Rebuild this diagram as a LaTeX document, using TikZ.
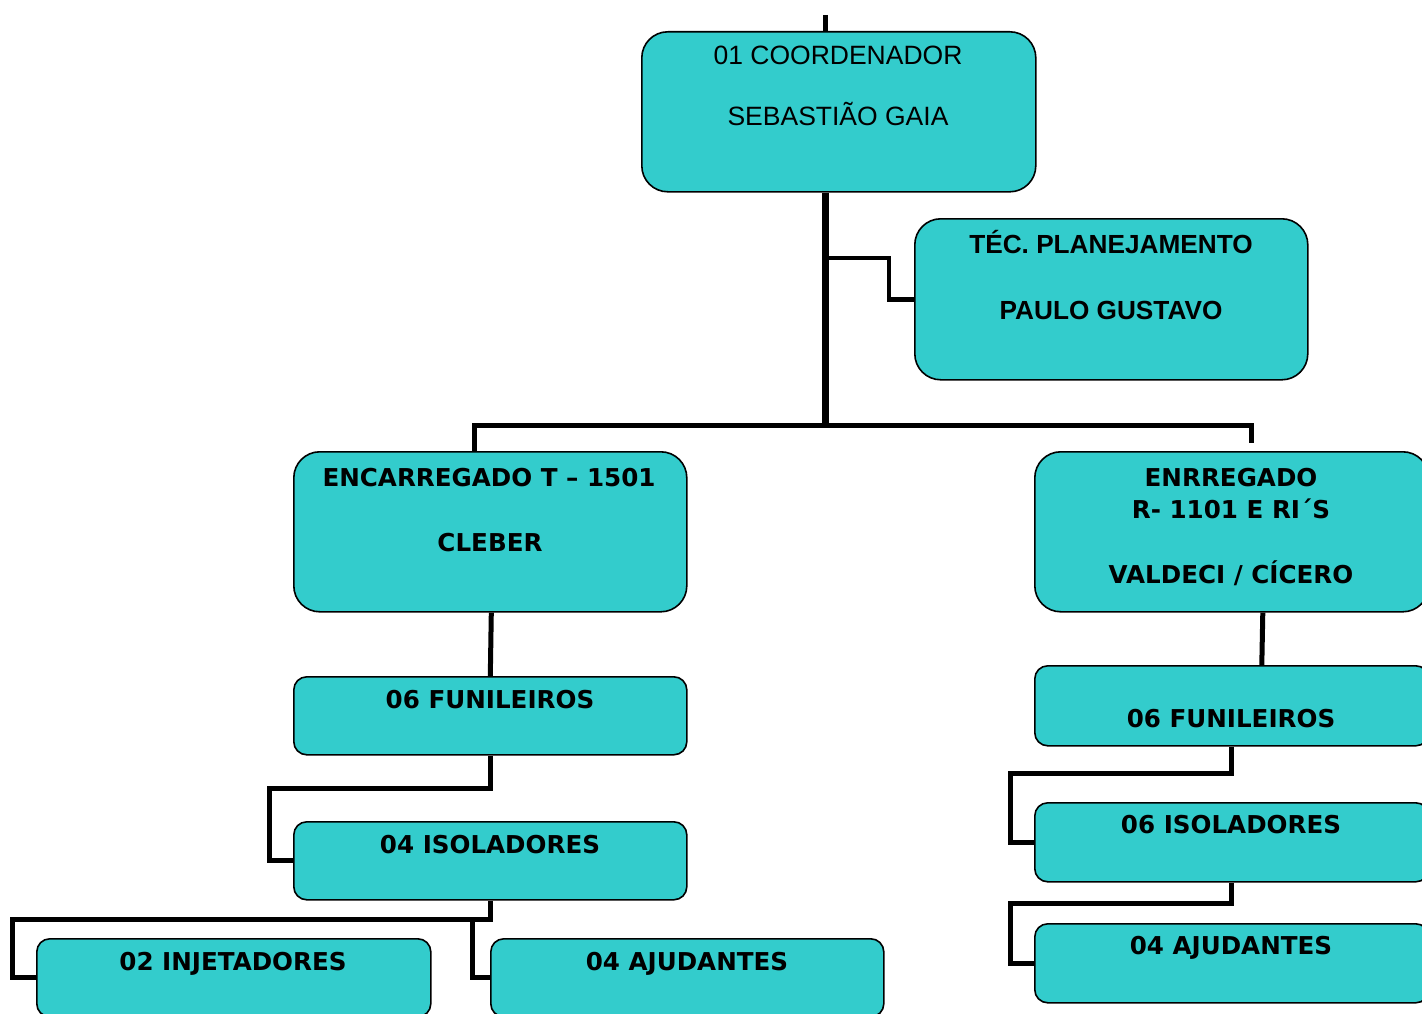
\documentclass[tikz,border=0pt]{standalone}
\usepackage{fontspec}
\setmainfont{Liberation Sans}
\newfontfamily\tahoma{DejaVu Sans}
\usetikzlibrary{calc}
\pgfdeclarelayer{bg}
\pgfsetlayers{bg,main}
\definecolor{tealc}{HTML}{33CCCC}
\begin{document}
\begin{tikzpicture}[x=1pt,y=-1pt,
  orgbox/.style={draw=black, line width=1.6pt, fill=tealc, rectangle,
    anchor=north west, inner sep=0pt, minimum width=393pt},
  bigbox/.style={orgbox, rounded corners=26pt, minimum height=160pt},
  smallbox/.style={orgbox, rounded corners=13pt, minimum height=79pt},
  conn/.style={line width=5pt, line join=miter},
  trunk/.style={line width=7pt},
  lbl/.style={anchor=base, inner sep=0pt, text=black},
  regf/.style={font=\fontsize{26.5}{30}\selectfont},
  arb/.style={font=\fontsize{26.2}{30}\selectfont\bfseries},
  tah/.style={font=\tahoma\fontsize{24.6}{30}\selectfont\bfseries}]
\useasboundingbox (0,0) rectangle (1422,1014);

% boxes
\node[bigbox, minimum width=394pt] (coord) at (641,31) {};
\node[bigbox, minimum height=161pt] (tec) at (914,218) {};
\node[bigbox] (enc) at (293,451) {};
\node[bigbox, minimum width=394pt] (enr) at (1034,451) {};
\node[smallbox, minimum height=78pt] (funL) at (293,676) {};
\node[smallbox, minimum height=78pt] (isoL) at (293,821) {};
\node[smallbox, minimum height=78pt, minimum width=394pt] (inj) at (36,938) {};
\node[smallbox, minimum height=78pt] (ajL) at (490,938) {};
\node[smallbox, minimum height=80pt, minimum width=394pt] (funR) at (1034,665) {};
\node[smallbox, minimum width=394pt] (isoR) at (1034,802) {};
\node[smallbox, minimum width=394pt] (ajR) at (1034,923) {};

% texts
\node[lbl, regf] (t1a) at (838,65) {01 COORDENADOR};
\node[lbl, regf] (t1b) at (838,126) {SEBASTIÃO GAIA};
\node[lbl, arb] (t2a) at (1111,253) {TÉC. PLANEJAMENTO};
\node[lbl, arb] (t2b) at (1111,319) {PAULO GUSTAVO};
\node[lbl, tah] (t3a) at (489,486) {ENCARREGADO T – 1501};
\node[lbl, tah] (t3b) at (490,551) {CLEBER};
\node[lbl, tah] (t4a) at (1231,486) {ENRREGADO};
\node[lbl, tah] (t4b) at (1231,518) {R- 1101 E RI´S};
\node[lbl, tah] (t4c) at (1231,583) {VALDECI / CÍCERO};
\node[lbl, tah] (t5) at (490,708) {06 FUNILEIROS};
\node[lbl, tah] (t6) at (490,853) {04 ISOLADORES};
\node[lbl, tah] (t7) at (233,970) {02 INJETADORES};
\node[lbl, tah] (t8) at (687,970) {04 AJUDANTES};
\node[lbl, tah] (t9) at (1231,727) {06 FUNILEIROS};
\node[lbl, tah] (t10) at (1231,833) {06 ISOLADORES};
\node[lbl, tah] (t11) at (1231,954) {04 AJUDANTES};

% connectors
\begin{pgfonlayer}{bg}
\coordinate (topend) at (825,15);
\coordinate (hub) at (825,425);
\coordinate (tj) at (825,258);
\draw[conn] (topend) -- (topend |- coord.north);
\draw[trunk] (hub |- coord.south) -- (hub);
\draw[conn, line width=4.5pt] (tj) -| ($(tec.west)+(-25,0)$) -- (tec.west);
\draw[conn] ($(enc.north)+(-15.5,0)$) |- (hub) -| ($(enr.north)+(20,-8)$);
\draw[conn] ($(enc.south)+(1,0)$) -- (funL.north);
\draw[conn] (funL.south) -- ++(0,33) -| ($(isoL.west)+(-24,0)$) -- (isoL.west);
\coordinate (s2) at ($(isoL.south)+(0,19)$);
\draw[conn] (isoL.south) -- (s2) -| ($(inj.west)+(-24,0)$) -- (inj.west);
\draw[conn] (s2) -| ($(ajL.west)+(-18,0)$) -- (ajL.west);
\draw[conn] ($(enr.south)+(31,0)$) -- ($(funR.north)+(30,0)$);
\draw[conn] (funR.south) -- ++(0,27) -| ($(isoR.west)+(-24,0)$) -- (isoR.west);
\draw[conn] (isoR.south) -- ++(0,21) -| ($(ajR.west)+(-24,0)$) -- (ajR.west);
\end{pgfonlayer}
\end{tikzpicture}
\end{document}
